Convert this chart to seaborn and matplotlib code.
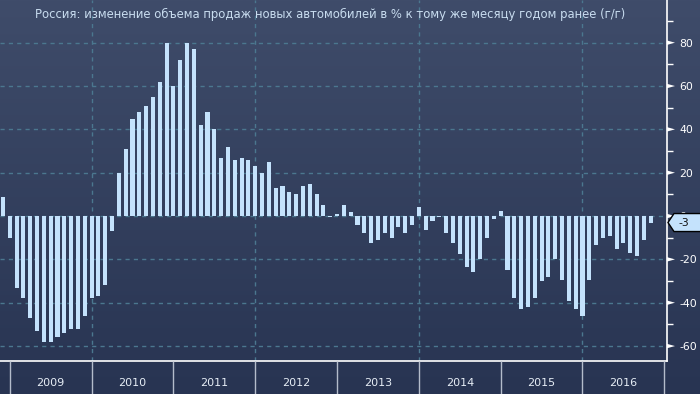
import numpy as np
import pandas as pd
import seaborn as sns
import matplotlib.pyplot as plt
import matplotlib.transforms as mtransforms
from matplotlib.colors import LinearSegmentedColormap
from matplotlib.patches import Polygon
from matplotlib.ticker import MultipleLocator

title = "Россия: изменение объема продаж новых автомобилей в % к тому же месяцу годом ранее (г/г)"
start_month = "2008-11"
# y/y change of new car sales, %, one value per month
yoy_change = [
    9, -10, -33, -38, -47, -53, -58, -58, -56, -54, -52, -52,
    -46, -38, -37, -32, -7, 20, 31, 45, 48, 51, 55, 62,
    80, 60, 72, 80, 77, 42, 48, 40, 27, 32, 26, 27,
    26, 23, 20, 25, 13, 14, 11, 10, 14, 15, 10, 5,
    -0.5, 1, 5, 2, -4, -8, -12.5, -11, -8, -10, -5, -8,
    -4, 4, -6.5, -2.5, -0.5, -8, -12.5, -17.5, -23.5, -26, -20, -10,
    -1.5, 2.5, -25, -38, -43, -42, -38, -30, -28, -20, -29.5, -39,
    -43, -46, -29.5, -13.5, -10, -9, -15, -12.5, -17, -18.5, -11, -3,
]
years = [2009, 2010, 2011, 2012, 2013, 2014, 2015, 2016]
y_ticks = [-60, -40, -20, 0, 20, 40, 60, 80]

months = pd.period_range(start_month, periods=len(yoy_change), freq="M")
df = pd.DataFrame({"pos": np.arange(len(months)), "month": months.astype(str),
                   "change": yoy_change})

# month-end positions: start of year Y sits at the Dec (Y-1) bar
first = months[0]
bounds = [(y - 1 - first.year) * 12 + (12 - first.month) for y in years + [years[-1] + 1]]

bar_color = "#c4e2fc"
grid_color = "#4b778f"
W, H = 700, 394
band_h = 33

plt.rcParams["font.family"] = ["DejaVu Sans"]
fig = plt.figure(figsize=(W / 100, H / 100), dpi=100)

# background gradient
bg = fig.add_axes([0, 0, 1, 1], zorder=0)
cmap = LinearSegmentedColormap.from_list("bg", ["#3f4c6a", "#283452"])
bg.imshow(np.linspace(0, 1, 256).reshape(-1, 1), aspect="auto", cmap=cmap,
          extent=[0, 1, 0, 1])
bg.axis("off")

ax = fig.add_axes([0, band_h / H, 667 / W, 1 - band_h / H], zorder=1)
ax.patch.set_alpha(0)
sns.barplot(data=df, x="pos", y="change", native_scale=True, color=bar_color,
            saturation=1, width=0.6, linewidth=0, ax=ax, zorder=3)

ax.set_xlim(-0.44, 97.4)
ax.set_ylim(-66.9, 99.7)
ax.set_xlabel("")
ax.set_ylabel("")
ax.set_xticks([])

# grid
ax.set_axisbelow(True)
for y in y_ticks:
    ax.axhline(y, color=grid_color, lw=1, ls=(0, (3, 3)), zorder=1)
for b in bounds[1::2]:
    ax.axvline(b, color=grid_color, lw=1, ls=(0, (3, 3)), zorder=1)

for s in ["top", "left"]:
    ax.spines[s].set_visible(False)
for s in ["bottom", "right"]:
    ax.spines[s].set_color("white")
    ax.spines[s].set_linewidth(1.2)

ax.yaxis.tick_right()
ax.set_yticks(y_ticks)
ax.set_yticklabels([str(t) for t in y_ticks])
ax.yaxis.set_minor_locator(MultipleLocator(10))
ax.tick_params(axis="y", which="major", length=0, pad=9, labelsize=7.8,
               labelcolor="white")
ax.tick_params(axis="y", which="minor", length=4, width=1, color="white")

# triangle tick marks (pixel offsets from the right spine)
for y in y_ticks:
    ax.add_patch(Polygon([(0, -2.2), (8, 0), (0, 2.2)], closed=True, fc="white",
                         ec="none",
                         transform=mtransforms.ScaledTranslation(1, y, ax.get_yaxis_transform()),
                         clip_on=False, zorder=5))

# last value tag
last = yoy_change[-1]
anchor = mtransforms.ScaledTranslation(1, last, ax.get_yaxis_transform())
tag = Polygon([(1, 0), (7, 9), (40, 9), (40, -9), (7, -9)], closed=True,
              fc=bar_color, ec="black", lw=1, transform=anchor, clip_on=False,
              zorder=6)
ax.add_patch(tag)
ax.annotate(f"{last:.0f}", xy=(1, last), xycoords=ax.get_yaxis_transform(),
            xytext=(11, 0), textcoords="offset pixels", ha="left", va="center",
            color="#111111", fontsize=7.8, zorder=7, annotation_clip=False)

# year band
band = fig.add_axes([0, 0, 667 / W, band_h / H], zorder=1)
band.patch.set_alpha(0)
band.set_xlim(ax.get_xlim())
band.set_ylim(0, 1)
band.axis("off")
band.vlines(bounds, 0, 1, color="#b4bccb", lw=1)
for y, b0, b1 in zip(years, bounds[:-1], bounds[1:]):
    band.text((b0 + b1) / 2, 0.33, str(y), ha="center", va="center",
              color="#e6edf5", fontsize=8)

fig.text(330 / W, 1 - 14 / H, title, ha="center", va="center",
         color="#c8dcef", fontsize=8.4)

fig.savefig("out.png", dpi=100)
